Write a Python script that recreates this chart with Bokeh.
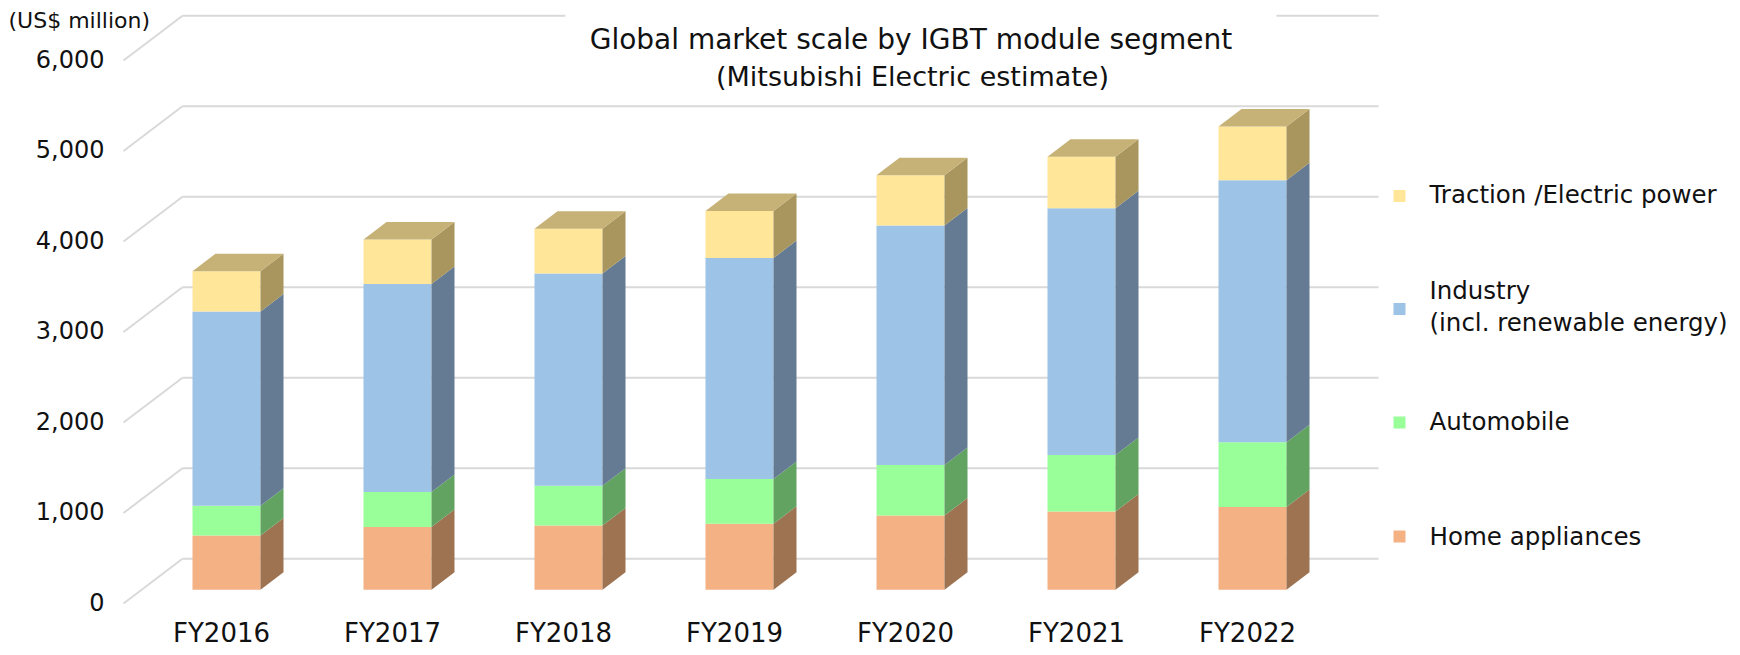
from bokeh.plotting import figure
from bokeh.models import Range1d, ColumnDataSource
from bokeh.embed import file_html
from bokeh.resources import INLINE
from bokeh.core.properties import value

# ---------------- data ----------------
years = ["FY2016", "FY2017", "FY2018", "FY2019", "FY2020", "FY2021", "FY2022"]
home_appliances = [600, 695, 710, 730, 820, 865, 915]
automobile = [330, 385, 440, 495, 560, 625, 715]
industry = [2145, 2300, 2345, 2440, 2645, 2725, 2895]
traction = [445, 490, 495, 520, 555, 570, 595]
y_ticks = [0, 1000, 2000, 3000, 4000, 5000, 6000]
legend_lines = ["Traction /Electric power", "Industry", "(incl. renewable energy)", "Automobile", "Home appliances"]
title_lines = ["Global market scale by IGBT module segment", "(Mitsubishi Electric estimate)"]
unit_label = "(US$ million)"

# ---------------- styling ----------------
front_colors = ["#F4B183", "#99FF99", "#9DC3E6", "#FFE699"]
side_colors = ["#9D7352", "#62A362", "#647B93", "#A8965E"]
top_color = "#C6B276"
grid_color = "#D9D9D9"
text_color = "#111111"
FONT = "DejaVu Sans"

# ---------------- layout (pixel geometry of the reference page) ----------------
FIG_W, FIG_H = 1740, 655
PAGE = 0
X0, PXX = 226.0, 171.0      # page x of first bar centre, px per category
Y0, PXY = 589.3, 0.0905     # page y of bar-plane zero, px per unit
FRONT_Y0, BACK_Y0 = 603.0, 558.3
FRONT_X, BACK_X, BACK_X_END = 123.0, 182.0, 1378.0
BAR_HALF, BAR_DX, BAR_DY = 34.0, 23.0, 17.5


def xd(X):
    return (X - X0) / PXX


def yd(Y):
    return (Y0 - Y) / PXY


front_shift = (FRONT_Y0 - Y0) / PXY
back_shift = (Y0 - BACK_Y0) / PXY

p = figure(width=FIG_W, height=FIG_H,
           x_range=Range1d(xd(PAGE), xd(PAGE + FIG_W)),
           y_range=Range1d(yd(PAGE + FIG_H), yd(PAGE)),
           output_backend="svg", toolbar_location=None,
           x_axis_type=None, y_axis_type=None, min_border=0,
           outline_line_color=None, background_fill_color="white",
           border_fill_color="white")
p.title.visible = False

# ---------------- 3D grid: back-wall lines and left-wall diagonals ----------------
n = len(y_ticks)
p.segment(x0=[xd(BACK_X)] * n, y0=[v + back_shift for v in y_ticks],
          x1=[xd(BACK_X_END)] * n, y1=[v + back_shift for v in y_ticks],
          line_color=grid_color, line_width=2)
p.segment(x0=[xd(FRONT_X)] * n, y0=[v - front_shift for v in y_ticks],
          x1=[xd(BACK_X)] * n, y1=[v + back_shift for v in y_ticks],
          line_color=grid_color, line_width=2)

# y tick labels on the front edge
p.text(x=[xd(104)] * n, y=[v - front_shift for v in y_ticks], y_offset=-2,
       text=[f"{v:,}" for v in y_ticks], text_align="right", text_baseline="middle",
       text_font=value(FONT), text_font_size="24px", text_color=text_color)

# ---------------- stacked 3D bars ----------------
series = [home_appliances, automobile, industry, traction]
hw = BAR_HALF / PXX
ddx = BAR_DX / PXX
ddy = BAR_DY / PXY
xs_idx = list(range(len(years)))
base = [0.0] * len(years)
for k, vals in enumerate(series):
    bottoms = base[:]
    tops = [b + v for b, v in zip(bottoms, vals)]
    src = ColumnDataSource(dict(
        left=[i - hw for i in xs_idx], right=[i + hw for i in xs_idx],
        bottom=bottoms, top=tops))
    p.quad(left="left", right="right", bottom="bottom", top="top", source=src,
           fill_color=front_colors[k], line_color=None)
    side_xs = [[i + hw, i + hw + ddx, i + hw + ddx, i + hw] for i in xs_idx]
    side_ys = [[b, b + ddy, t + ddy, t] for b, t in zip(bottoms, tops)]
    p.patches(xs=side_xs, ys=side_ys, fill_color=side_colors[k], line_color=None)
    base = tops

top_xs = [[i - hw, i - hw + ddx, i + hw + ddx, i + hw] for i in xs_idx]
top_ys = [[t, t + ddy, t + ddy, t] for t in base]
p.patches(xs=top_xs, ys=top_ys, fill_color=top_color, line_color=None)

# x category labels
p.text(x=[i - 5 / PXX for i in xs_idx], y=[yd(632.5)] * len(years), text=years,
       text_align="center", text_baseline="middle",
       text_font=value(FONT), text_font_size="26px", text_color=text_color)

# ---------------- title ----------------
p.quad(left=[xd(565)], right=[xd(1276)], top=[yd(PAGE)], bottom=[yd(100)],
       fill_color="white", line_color=None)
p.text(x=[xd(910.5)], y=[yd(39)], text=title_lines[:1],
       text_align="center", text_baseline="middle",
       text_font=value(FONT), text_font_size="28px", text_color=text_color)
p.text(x=[xd(912)], y=[yd(75.5)], text=title_lines[1:],
       text_align="center", text_baseline="middle",
       text_font=value(FONT), text_font_size="27px", text_color=text_color)

# ---------------- unit label ----------------
p.text(x=[xd(8)], y=[yd(20)], text=[unit_label], text_align="left",
       text_baseline="middle", text_font=value(FONT), text_font_size="22px",
       text_color=text_color)

# ---------------- legend ----------------
legend_colors = [front_colors[3], front_colors[2], front_colors[1], front_colors[0]]
p.scatter(x=[xd(1399)] * 4, y=[yd(195.5), yd(308.5), yd(422), yd(536)],
          marker="square", size=12, fill_color=legend_colors, line_color=None)
p.text(x=[xd(1429)] * 5,
       y=[yd(193.5), yd(290), yd(322), yd(421), yd(535.5)],
       text=legend_lines, text_align="left", text_baseline="middle",
       text_font=value(FONT), text_font_size="24.5px", text_color=text_color)

open("out.html", "w").write(file_html(p, INLINE))
